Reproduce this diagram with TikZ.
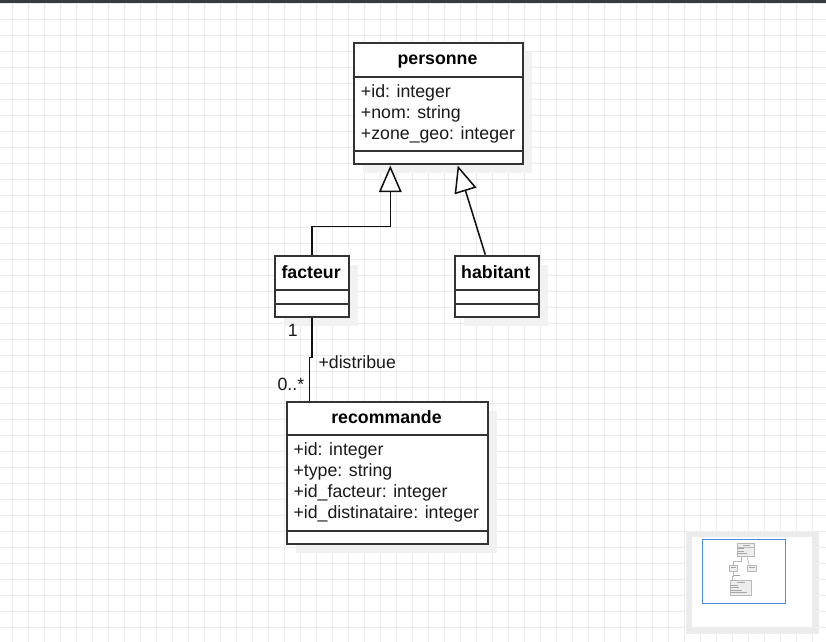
\documentclass[tikz,border=0pt]{standalone}
\usepackage{fontspec}
\setmainfont{Liberation Sans}
\usetikzlibrary{arrows.meta,shadows,calc}
\definecolor{gridc}{HTML}{EBEBEB}
\definecolor{barc}{HTML}{353C41}
\definecolor{linec}{HTML}{333333}
\definecolor{connc}{HTML}{111111}
\definecolor{shadowc}{HTML}{F1F1F1}
\definecolor{mapblue}{HTML}{4A90E2}
\definecolor{miniline}{HTML}{B8B8B8}
\definecolor{minifill}{HTML}{EDEDED}
\tikzset{
  cls/.style={draw=linec, line width=1.5pt, fill=white, inner sep=0pt, anchor=north west,
    general shadow={fill=shadowc, shadow xshift=6.75pt, shadow yshift=-6.75pt}},
  divline/.style={draw=linec, line width=1.2pt},
  ttl/.style={anchor=base, inner sep=0pt, text=black, font=\fontsize{13.3}{16}\selectfont\bfseries},
  attr/.style={anchor=base west, inner sep=0pt, text=black!90, font=\fontsize{13.3}{16}\selectfont},
  conn/.style={draw=connc, line width=1.15pt},
  inh/.style={conn, -{Triangle[fill=white, length=20pt, width=17pt]}},
  lbl/.style={inner sep=0pt, text=black!90, font=\fontsize{13.3}{16}\selectfont},
  gridline/.style={draw=gridc, line width=0.75pt},
  mini/.style={draw=miniline, fill=minifill, line width=0.4pt},
  minitxt/.style={draw=black!35, line width=0.5pt},
}
\begin{document}
\begin{tikzpicture}[x=0.75pt, y=-0.75pt]
% canvas
\fill[white] (0,0) rectangle (826,642);
\useasboundingbox (0,0) rectangle (826,642);
\foreach \k in {0,...,50} { \draw[gridline] (12.3+16*\k,0) -- (12.3+16*\k,642); }
\foreach \k in {0,...,39} { \draw[gridline] (0,3.3+16*\k) -- (826,3.3+16*\k); }
\fill[barc] (0,0) rectangle (826,3);

% class boxes
\node[cls, minimum width=126.75pt, minimum height=91.125pt] (personne) at (353,42) {};
\draw[divline] (353,77) -- (522,77);
\draw[divline] (353,151) -- (522,151);
\node[ttl] (personneT) at (437.5,65) {personne};
\node[attr] (personneA) at (360.7,97.7) {+id: integer};
\node[attr] (personneB) at (360.7,118.7) {+nom: string};
\node[attr] (personneC) at (360.7,139.7) {+zone\_geo: integer};

\node[cls, minimum width=55.3pt, minimum height=46.2pt] (facteur) at (274.3,254.7) {};
\draw[divline] (274.3,290) -- (348,290);
\draw[divline] (274.3,303.7) -- (348,303.7);
\node[ttl] (facteurT) at (311.15,278.3) {facteur};

\node[cls, minimum width=63pt, minimum height=46.2pt] (habitant) at (453.7,254.7) {};
\draw[divline] (453.7,290) -- (537.7,290);
\draw[divline] (453.7,303.7) -- (537.7,303.7);
\node[ttl] (habitantT) at (495.7,278.3) {habitant};

\node[cls, minimum width=151.2pt, minimum height=106.95pt] (recommande) at (285.7,400.7) {};
\draw[divline] (285.7,435) -- (487.3,435);
\draw[divline] (285.7,531) -- (487.3,531);
\node[ttl] (recommandeT) at (386.5,423.3) {recommande};
\node[attr] (recommandeA) at (293.3,455.3) {+id: integer};
\node[attr] (recommandeB) at (293.3,476.3) {+type: string};
\node[attr] (recommandeC) at (293.3,497.3) {+id\_facteur: integer};
\node[attr] (recommandeD) at (293.3,518.3) {+id\_distinataire: integer};

% connectors
\draw[inh] (facteur.north) -- ++(0,-28.4) -| ([xshift=-36.15pt]personne.south);
\draw[inh] ([xshift=-8.55pt]habitant.north) -- ([xshift=14.4pt]personne.south);
\draw[conn] (facteur.south) -- ++(0,39.4) -| ([xshift=-58.65pt]recommande.north);
\node[lbl, anchor=base] (m1) at (292.8,336) {1};
\node[lbl, anchor=base west] (distrib) at (318.3,368.3) {+distribue};
\node[lbl, anchor=base west] (m2) at (277.3,390) {0..*};

% minimap
\fill[black!7] (685.5,530.5) rectangle (818.5,633.5);
\fill[black!8!white] (687,532) rectangle (817,632);
\fill[white] (692,537) rectangle (812.3,627.3);
\draw[mapblue, line width=0.9pt] (702.3,539.3) rectangle (785.7,603.3);
\draw[mini] (737.3,543.3) rectangle (754.7,555.8);
\draw[miniline, line width=0.4pt] (737.3,546.9) -- (754.7,546.9);
\draw[minitxt] (742.5,545.1) -- (749.5,545.1);
\draw[minitxt] (738.2,548.8) -- (744,548.8);
\draw[minitxt] (738.2,550.9) -- (744.3,550.9);
\draw[minitxt] (738.2,553) -- (747.3,553);
\draw[mini] (729.2,565.2) rectangle (736.8,571.6);
\draw[minitxt] (730.5,567) -- (735.5,567);
\draw[mini] (747.7,565.2) rectangle (756.3,571.6);
\draw[minitxt] (749,567) -- (755,567);
\draw[mini] (730.4,580.2) rectangle (751.2,594.9);
\draw[minitxt] (736.5,582) -- (745,582);
\draw[minitxt] (731.3,585.7) -- (737.5,585.7);
\draw[minitxt] (731.3,587.8) -- (738.5,587.8);
\draw[minitxt] (731.3,589.9) -- (741.5,589.9);
\draw[minitxt] (731.3,592) -- (746.5,592);
\draw[miniline, line width=0.5pt] (733,565.2) -- (733,561.7) -- (741.4,561.7) -- (741.4,555.8);
\draw[miniline, line width=0.5pt] (749.4,565.2) -- (746.6,555.8);
\draw[miniline, line width=0.5pt] (733,571.6) -- (733,576) -- (732.7,576) -- (732.7,580.2);
\draw[minitxt] (734,575.5) -- (740,575.5);
\end{tikzpicture}
\end{document}
